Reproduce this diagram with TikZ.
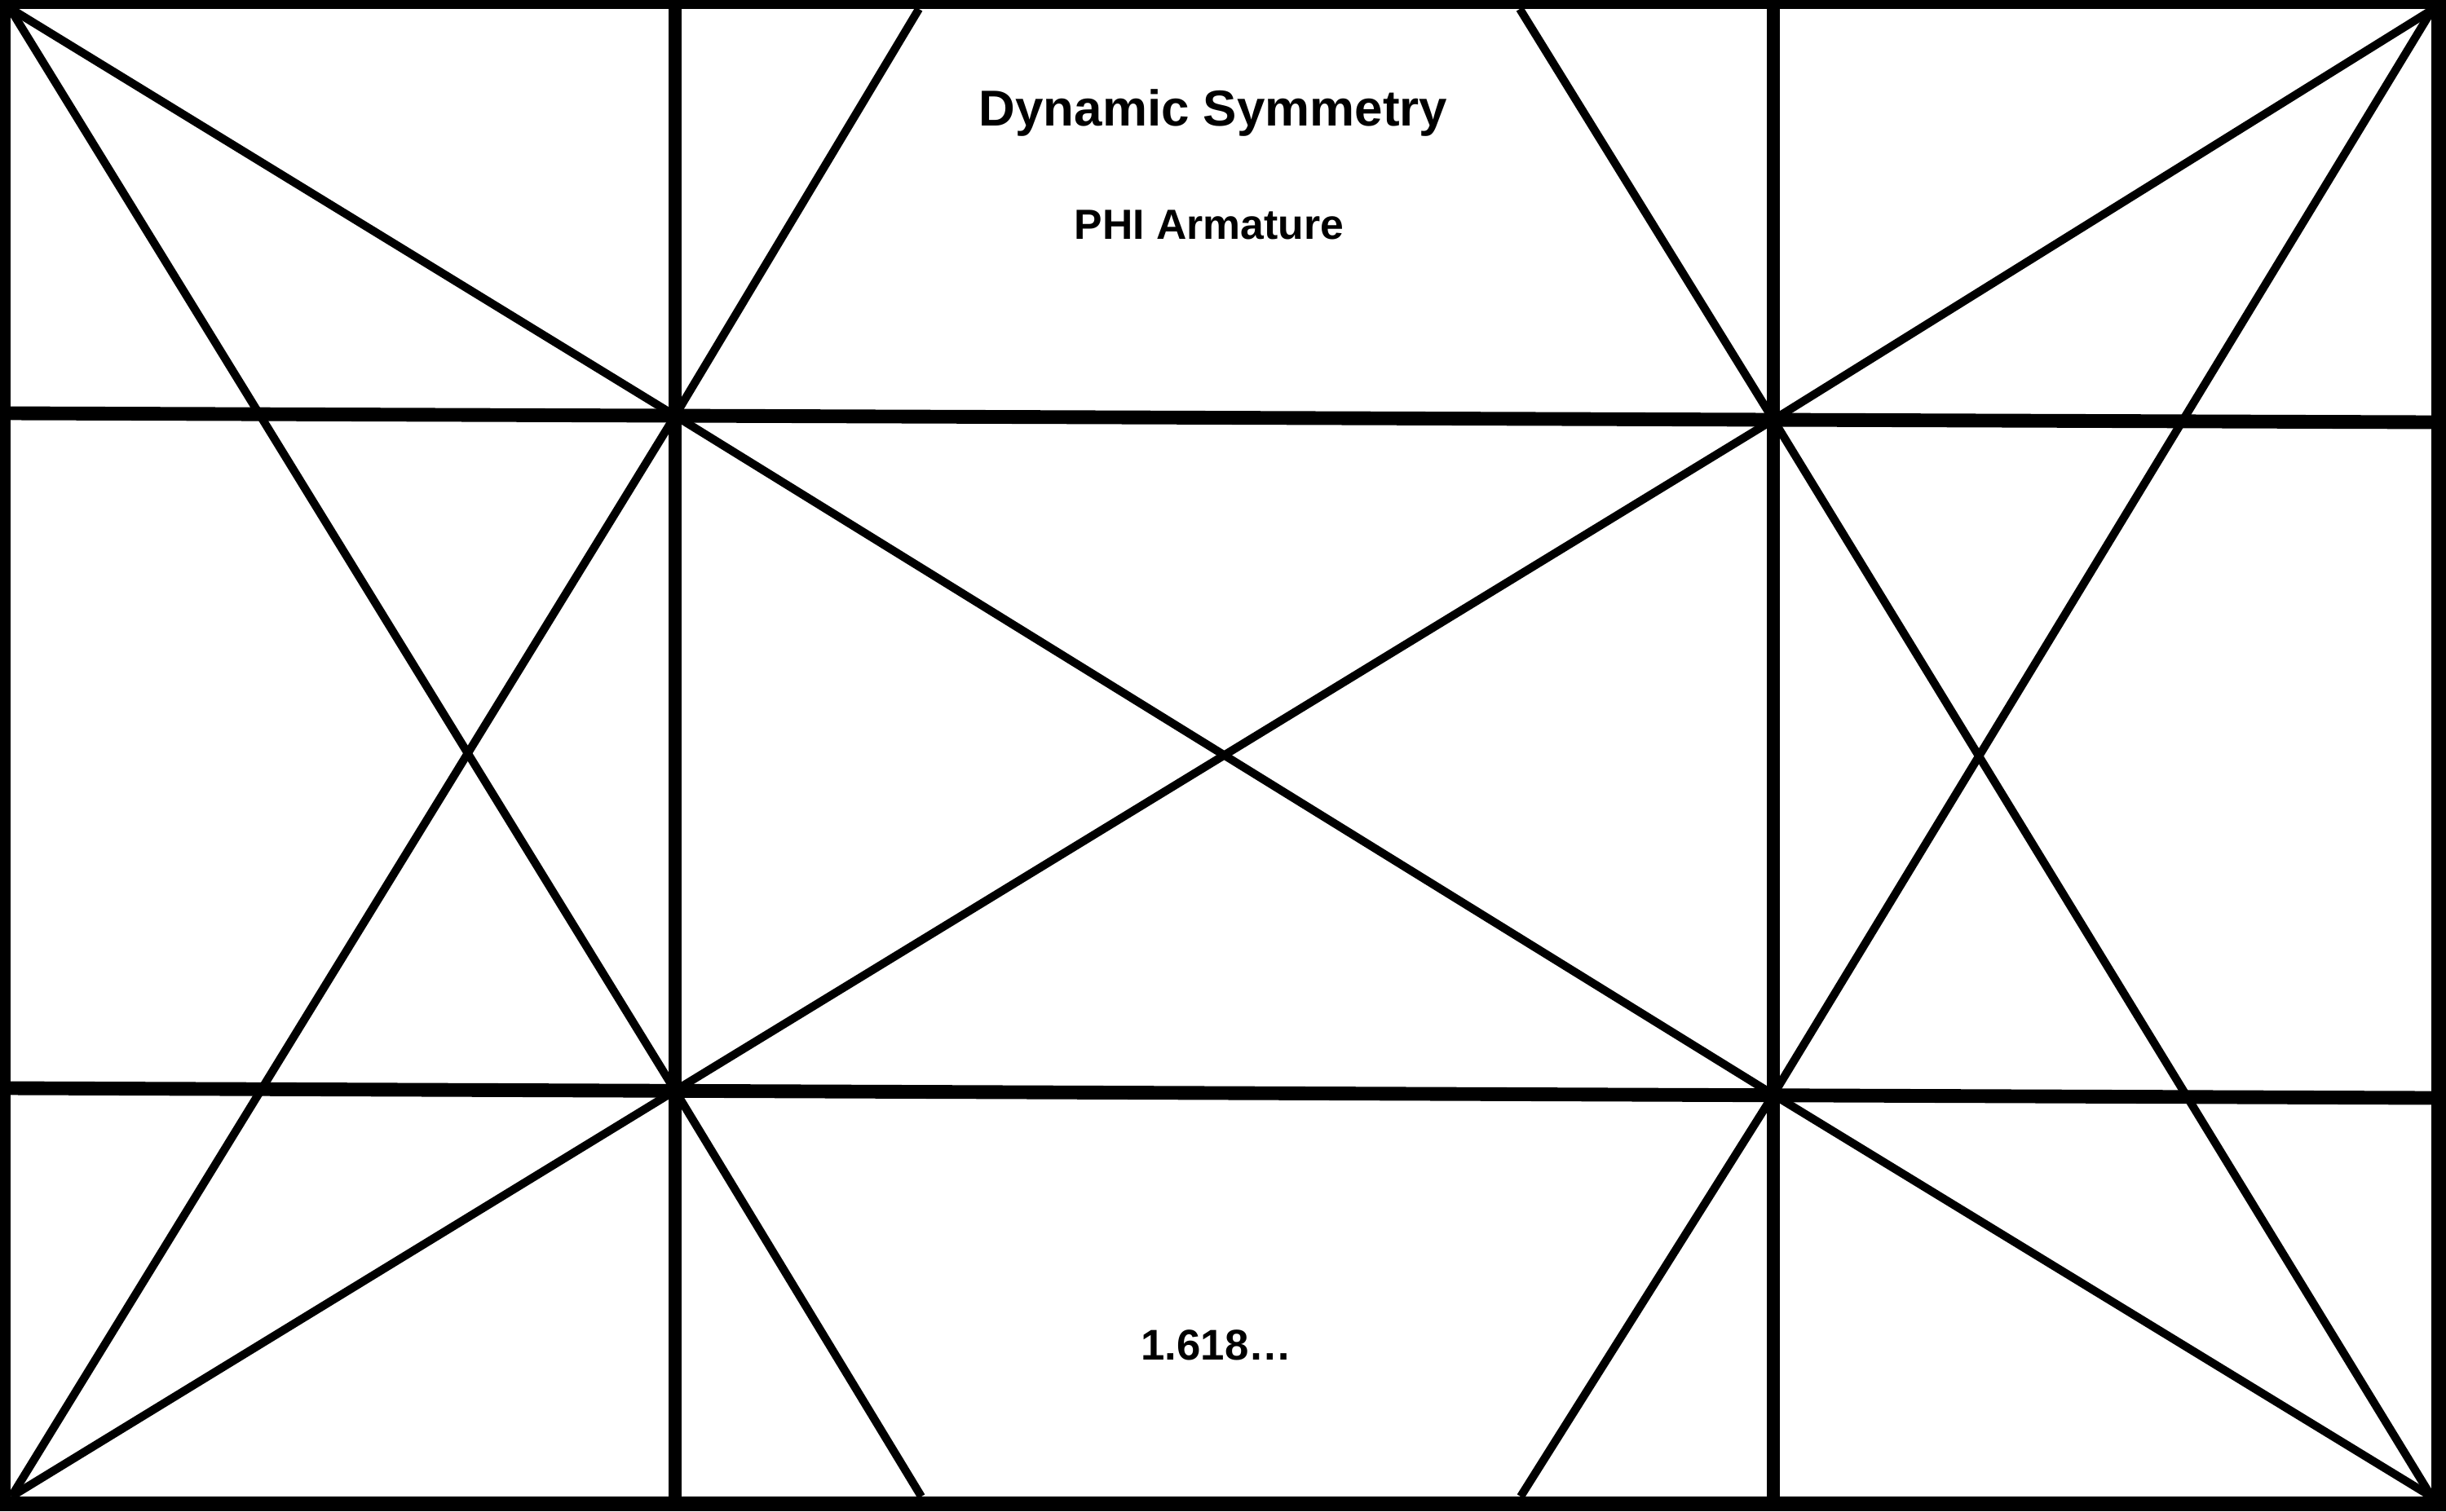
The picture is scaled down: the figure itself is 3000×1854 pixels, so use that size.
\documentclass[tikz,border=0pt]{standalone}
\usepackage{fontspec}
\setmainfont{Liberation Sans}
\begin{document}
\begin{tikzpicture}[x=0.01cm,y=-0.01cm,
  frame/.style={line width=5.1pt,draw=black},
  gridline/.style={line width=4.8pt,draw=black},
  diag/.style={line width=2.85pt,draw=black,line cap=butt},
  lbl/.style={inner sep=0pt,anchor=base,font=\bfseries}]
\useasboundingbox (0,0) rectangle (3000,1854);
\clip (0,0) rectangle (3000,1854);
\fill[white] (0,0) rectangle (3000,1854);
% corners (inner)
\coordinate (TL) at (12,10);
\coordinate (TR) at (2983,12);
\coordinate (BL) at (14,1836);
\coordinate (BR) at (2982,1836);
% grid intersections
\coordinate (UL) at (828,510);
\coordinate (UR) at (2175,515);
\coordinate (LL) at (828,1338);
\coordinate (LR) at (2175,1343);
% grid ends
\coordinate (h1a) at (13,507);
\coordinate (h1b) at (2982,518);
\coordinate (h2a) at (13,1335);
\coordinate (h2b) at (2982,1347);
\coordinate (v1a) at (828,0);
\coordinate (v1b) at (828,1854);
\coordinate (v2a) at (2175,0);
\coordinate (v2b) at (2175,1854);
% reciprocal ends
\coordinate (rb1) at (1130,1836);
\coordinate (rt1) at (1127,11);
\coordinate (rb2) at (1865,1836);
\coordinate (rt2) at (1864,11);
% diagonals
\draw[diag] (TL) -- (UL) -- (LR) -- (BR);
\draw[diag] (BL) -- (LL) -- (UR) -- (TR);
% reciprocals
\draw[diag] (TL) -- (LL) -- (rb1);
\draw[diag] (BL) -- (UL) -- (rt1);
\draw[diag] (TR) -- (LR) -- (rb2);
\draw[diag] (BR) -- (UR) -- (rt2);
% grid
\draw[gridline] (h1a) -- (h1b);
\draw[gridline] (h2a) -- (h2b);
\draw[gridline] (v1a) -- (v1b);
\draw[gridline] (v2a) -- (v2b);
% frame
\draw[frame] (4,2) rectangle (2991,1845);
% labels
\node[lbl,font=\bfseries\fontsize{17.6}{21}\selectfont] (title) at (1488,154) {Dynamic Symmetry};
\node[lbl,font=\bfseries\fontsize{14.7}{18}\selectfont] (sub) at (1483,293) {PHI Armature};
\node[lbl,font=\bfseries\fontsize{15}{18}\selectfont] (ratio) at (1492,1668) {1.618…};
\end{tikzpicture}
\end{document}
